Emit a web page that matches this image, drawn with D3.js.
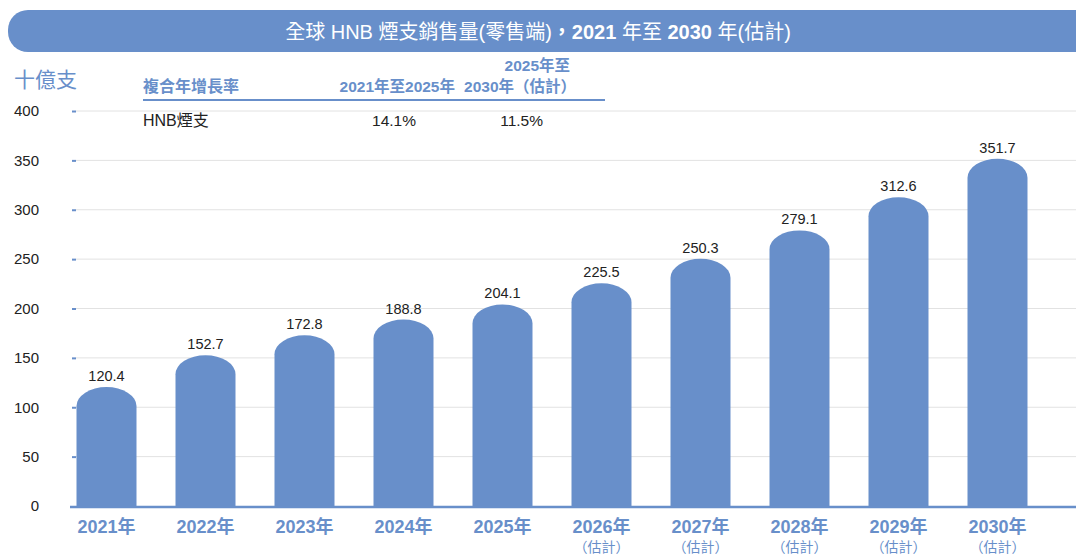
<!DOCTYPE html>
<html><head><meta charset="utf-8">
<script src="https://cdn.jsdelivr.net/npm/d3@7"></script>
<style>
body{margin:0;background:#fff;}
svg text{font-family:"Liberation Sans Narrow","Liberation Sans","Noto Sans CJK TC",sans-serif;}
</style></head><body>
<svg id="c" width="1076" height="555"></svg>
<script>
const years = ["2021年","2022年","2023年","2024年","2025年","2026年","2027年","2028年","2029年","2030年"];
const estimated = [false,false,false,false,false,true,true,true,true,true];
const values = [120.4,152.7,172.8,188.8,204.1,225.5,250.3,279.1,312.6,351.7];
const yTicks = [0,50,100,150,200,250,300,350,400];
const titleParts = [["全球 HNB 煙支銷售量(零售端)",false],["，2021 ",true],["年至 ",false],["2030 ",true],["年(估計)",false]];
const unit = "十億支";
const cagrHeader = ["複合年增長率","2021年至2025年",["2025年至","2030年（估計）"]];
const cagrRow = ["HNB煙支","14.1%","11.5%"];

const blue = "#688fca";
const svg = d3.select("#c");

// title bar
svg.append("rect").attr("x",8).attr("y",10).attr("width",1100).attr("height",42).attr("rx",20).attr("fill",blue);
const tt = svg.append("text").attr("x",538).attr("y",39).attr("text-anchor","middle").attr("fill","#fff")
  .attr("font-size",20);
titleParts.forEach(([t,b])=>tt.append("tspan").attr("font-weight",b?"bold":"normal").text(t));

const y = d3.scaleLinear().domain([0,400]).range([506,111]);
const x = d3.scaleBand().domain(years).range([57,1047]).paddingInner(0.394).paddingOuter(0.197);

// gridlines
svg.append("g").selectAll("line").data(yTicks.filter(d=>d>0)).join("line")
  .attr("x1",76).attr("x2",1076).attr("y1",d=>y(d)).attr("y2",d=>y(d))
  .attr("stroke","#e2e2e2").attr("stroke-width",1);

// y axis
const ya = svg.append("g").attr("transform","translate(77,0)")
  .call(d3.axisLeft(y).tickValues(yTicks).tickSize(4).tickPadding(34).tickFormat(d3.format("d")));
ya.select(".domain").remove();
ya.selectAll(".tick line").attr("stroke",blue).attr("stroke-width",2).attr("x1",-5).attr("x2",-1);
ya.selectAll(".tick").filter(d=>d===0).select("line").remove();
ya.selectAll(".tick text").attr("font-size",15).attr("fill","#222");

// bars with rounded caps
const capH = 19;
svg.append("g").selectAll("path").data(values).join("path")
  .attr("fill",blue)
  .attr("d",(d,i)=>{
    const x0 = x(years[i]), w = x.bandwidth(), top = y(d), base = y(0);
    const rx = w/2;
    return `M${x0},${base}L${x0},${top+capH}A${rx},${capH} 0 0 1 ${x0+w},${top+capH}L${x0+w},${base}Z`;
  });

// value labels
svg.append("g").selectAll("text").data(values).join("text")
  .attr("x",(d,i)=>x(years[i])+x.bandwidth()/2).attr("y",d=>y(d)-6)
  .attr("text-anchor","middle").attr("font-size",14.5).attr("fill","#222")
  .text(d=>d.toFixed(1));

// baseline
svg.append("line").attr("x1",70).attr("x2",1076).attr("y1",507).attr("y2",507)
  .attr("stroke",blue).attr("stroke-width",2.5);

// x labels
const xl = svg.append("g");
years.forEach((yr,i)=>{
  const cx = x(yr)+x.bandwidth()/2;
  xl.append("text").attr("x",cx).attr("y",533).attr("text-anchor","middle")
    .attr("font-size",18).attr("font-weight","bold").attr("fill",blue).text(yr);
  if(estimated[i]) xl.append("text").attr("x",cx).attr("y",552).attr("text-anchor","middle")
    .attr("font-size",14).attr("fill",blue).text("（估計）");
});

// unit
svg.append("text").attr("x",14).attr("y",87).attr("font-size",21).attr("fill",blue).text(unit);

// CAGR table
const hs = 15.5;
svg.append("text").attr("x",143).attr("y",92).attr("font-size",16).attr("font-weight","bold").attr("fill",blue).text(cagrHeader[0]);
svg.append("text").attr("x",455).attr("y",92).attr("text-anchor","end").attr("font-size",hs).attr("font-weight","bold").attr("fill",blue).text(cagrHeader[1]);
svg.append("text").attr("x",570).attr("y",71).attr("text-anchor","end").attr("font-size",hs).attr("font-weight","bold").attr("fill",blue).text(cagrHeader[2][0]);
svg.append("text").attr("x",576).attr("y",92).attr("text-anchor","end").attr("font-size",hs).attr("font-weight","bold").attr("fill",blue).text(cagrHeader[2][1]);
svg.append("line").attr("x1",143).attr("x2",605).attr("y1",100).attr("y2",100).attr("stroke",blue).attr("stroke-width",2);
svg.append("text").attr("x",143).attr("y",126).attr("font-size",16).attr("fill","#222").text(cagrRow[0]);
svg.append("text").attr("x",416).attr("y",126).attr("text-anchor","end").attr("font-size",15.5).attr("fill","#222").text(cagrRow[1]);
svg.append("text").attr("x",543).attr("y",126).attr("text-anchor","end").attr("font-size",15.5).attr("fill","#222").text(cagrRow[2]);
</script></body></html>
